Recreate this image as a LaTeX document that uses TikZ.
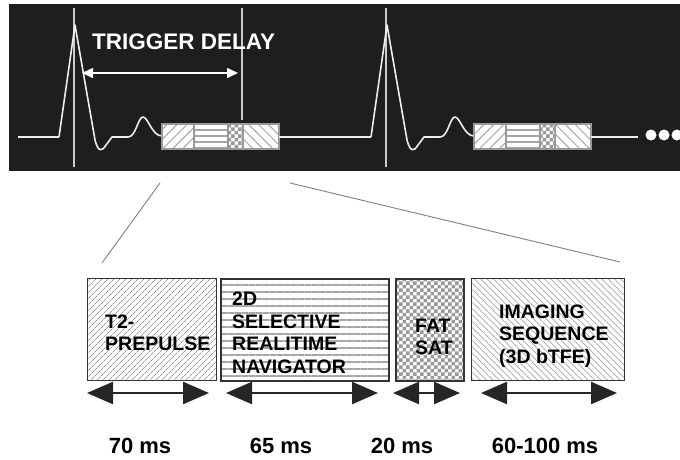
\documentclass[tikz,border=0pt]{standalone}
\usepackage{fontspec}
\setmainfont{Liberation Sans}
\usetikzlibrary{arrows.meta,patterns,patterns.meta}
\definecolor{panel}{HTML}{1E1E1E}
\pgfdeclarepatternformonly{chk}{\pgfqpoint{-.1pt}{-.1pt}}{\pgfqpoint{7.1pt}{7.1pt}}{\pgfqpoint{7pt}{7pt}}{%
  \pgfpathrectangle{\pgfqpoint{0pt}{0pt}}{\pgfqpoint{3.6pt}{3.6pt}}%
  \pgfpathrectangle{\pgfqpoint{3.5pt}{3.5pt}}{\pgfqpoint{3.6pt}{3.6pt}}%
  \pgfusepath{fill}}

\begin{document}
\begin{tikzpicture}[x=1pt,y=-1pt,
  ecg/.style={white!93!black,line width=1.6pt,line join=round},
  trig/.style={white!80!black,line width=1.3pt},
  cell/.style={draw=white!60!black,line width=1.3pt,preaction={fill=white}},
  seg/.style={draw=black!80,line width=1.5pt,minimum height=102pt,anchor=north west,inner sep=0pt},
  lbl/.style={font=\fontsize{19.5}{22.5}\selectfont\bfseries,align=left,anchor=west,inner sep=0pt},
  dur/.style={font=\fontsize{22}{22}\selectfont\bfseries,inner sep=0pt},
  span/.style={{Triangle[length=26pt,width=22pt]}-{Triangle[length=26pt,width=22pt]},line width=2.5pt,black!85},
  zoomln/.style={black!50,line width=.9pt},
  hne/.style={pattern={Lines[angle=45,distance=4pt,line width=.7pt]},pattern color=black!40},
  hnw/.style={pattern={Lines[angle=-45,distance=4.5pt,line width=.7pt]},pattern color=black!35},
  hhz/.style={pattern={Lines[angle=0,distance=7pt,line width=1.6pt]},pattern color=black!35},
  hck/.style={pattern=chk,pattern color=black!40}]
  \useasboundingbox (0,0) rectangle (680,460);
  \fill[panel] (9,4) rectangle (680,171);

  \foreach \s in {0,312} {
    \begin{scope}[xshift=\s]
      \draw[trig] (74,8) -- (74,167);
      \draw[ecg] (59,137) -- (75,25) -- (95,140) .. controls (98,152) and (102,152) .. (106,145)
        -- (112,137) -- (128,137) .. controls (136,137) and (138,117) .. (143,117)
        .. controls (148,117) and (152,136) .. (162,136);
      \draw[cell,pattern={Lines[angle=45,distance=7pt,line width=1pt]},pattern color=black!35] (162,124) rectangle (194,149);
      \draw[cell,pattern={Lines[angle=0,distance=6pt,line width=1.5pt]},pattern color=black!35] (194,124) rectangle (228,149);
      \draw[cell,hck] (228,124) rectangle (243,149);
      \draw[cell,pattern={Lines[angle=-45,distance=7pt,line width=1pt]},pattern color=black!35] (243,124) rectangle (279,149);
    \end{scope}
  }
  \draw[ecg] (18,137) -- (59,137);
  \draw[ecg] (279,137) -- (371,137);
  \draw[ecg] (591,137) -- (638,137);
  \foreach \x in {651,664,677} \fill[white] (\x,135) circle (5.5pt);

  \draw[trig] (242,8) -- (242,120);
  \node[font=\fontsize{22.5}{22.5}\selectfont\bfseries,text=white,anchor=west,inner sep=0pt] (delaytxt) at (92,42) {TRIGGER DELAY};
  \coordinate (ds) at (82,73);
  \coordinate (de) at (238,73);
  \draw[{Triangle[length=11pt,width=10pt]}-{Triangle[length=11pt,width=10pt]},white,line width=1.5pt] (ds) -- (de);

  \coordinate (zla) at (160,183);
  \coordinate (zlb) at (102,263);
  \coordinate (zra) at (290,183);
  \coordinate (zrb) at (620,262);
  \draw[zoomln] (zla) -- (zlb);
  \draw[zoomln] (zra) -- (zrb);

  \node[seg,hne,minimum width=129pt] (t2) at (87,278) {};
  \node[seg,hhz,minimum width=168pt] (nav) at (220,278) {};
  \node[seg,hck,minimum width=68pt] (fat) at (395,278) {};
  \node[seg,hnw,minimum width=153pt] (img) at (471,278) {};

  \node[lbl] (t2txt) at (105,333) {T2-\\PREPULSE};
  \node[lbl] (navtxt) at (232,333) {2D\\SELECTIVE\\REALITIME\\NAVIGATOR};
  \node[lbl] (fattxt) at (415,337) {FAT\\SAT};
  \node[lbl] (imgtxt) at (499,336) {IMAGING\\SEQUENCE\\(3D bTFE)};

  \coordinate (a1) at (87,393);  \coordinate (b1) at (209,393);
  \coordinate (a2) at (226,393); \coordinate (b2) at (378,393);
  \coordinate (a3) at (393,393); \coordinate (b3) at (460,393);
  \coordinate (a4) at (481,393); \coordinate (b4) at (617,393);
  \draw[span] (a1) -- (b1);
  \draw[span] (a2) -- (b2);
  \draw[span] (a3) -- (b3);
  \draw[span] (a4) -- (b4);

  \node[dur] (d1) at (140,446) {70 ms};
  \node[dur] (d2) at (281,446) {65 ms};
  \node[dur] (d3) at (402,446) {20 ms};
  \node[dur] (d4) at (545,446) {60-100 ms};
\end{tikzpicture}
\end{document}
